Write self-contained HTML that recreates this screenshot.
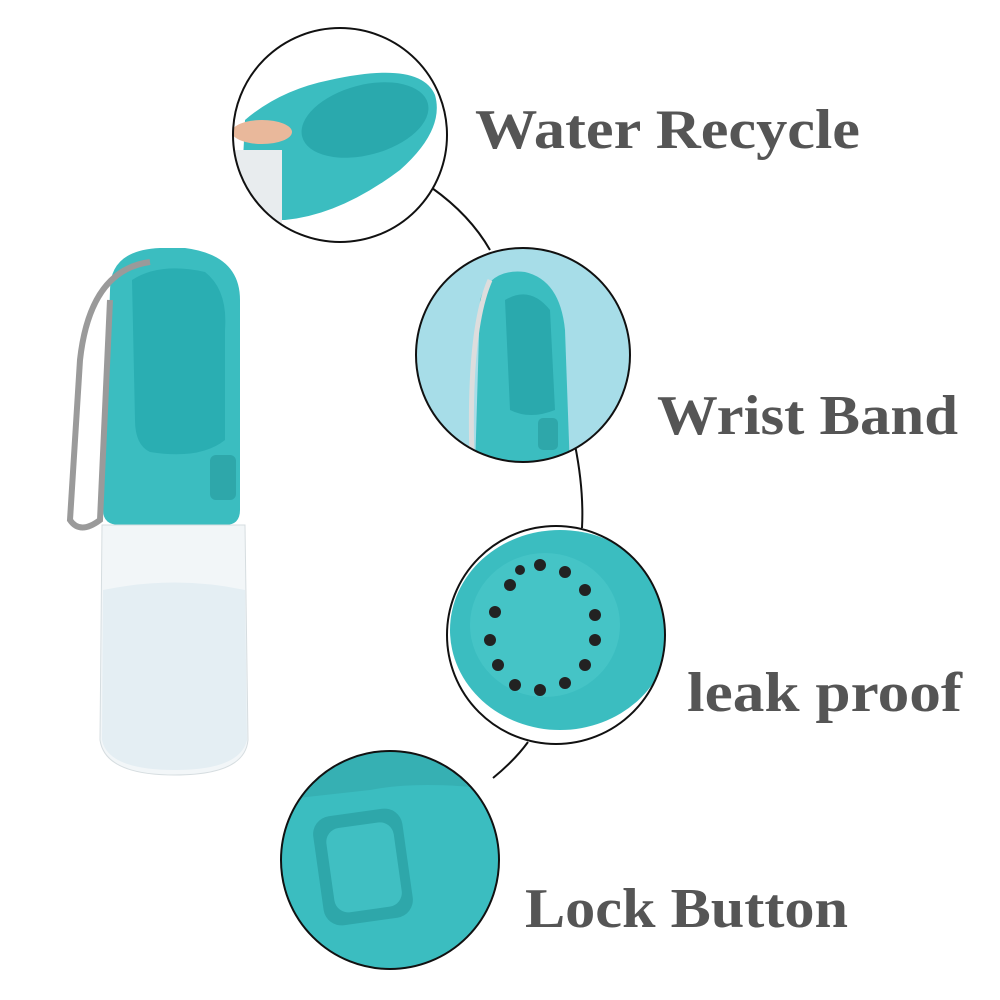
<!DOCTYPE html>
<html><head><meta charset="utf-8"><style>
html,body{margin:0;padding:0;background:#fff;}
svg{display:block}
text{font-family:"Liberation Serif",serif;fill:#555;font-weight:bold;}
</style></head><body>
<svg width="1000" height="1000" viewBox="0 0 1000 1000" xmlns="http://www.w3.org/2000/svg">
<rect width="1000" height="1000" fill="#fff"/>
<path d="M432,188 Q470,215 490,250" stroke="#111" stroke-width="2" fill="none"/>
<path d="M575,445 Q584,490 582,528" stroke="#111" stroke-width="2" fill="none"/>
<path d="M528,742 Q515,760 493,778" stroke="#111" stroke-width="2" fill="none"/>

<path d="M110,290 Q110,250 160,248 L185,248 Q240,255 240,300 L240,510 Q240,525 225,525 L120,525 Q103,525 103,510 Z" fill="#3bbdc0"/>
<path d="M132,280 Q160,262 205,272 Q228,290 225,330 L225,440 Q200,460 150,452 Q135,445 135,420 Z" fill="#2aaeb2"/>
<rect x="210" y="455" width="26" height="45" rx="6" fill="#2ea7aa"/>
<path d="M102,525 L245,525 L248,740 Q245,775 175,775 Q105,775 100,740 Z" fill="#f2f6f8" stroke="#d6dde0"/>
<path d="M103,590 Q175,575 245,590 L247,740 Q240,770 175,770 Q108,770 102,740 Z" fill="#e4eef3"/>
<path d="M150,262 Q90,270 80,360 L70,520 Q80,535 100,520 L110,300" stroke="#9a9a9a" stroke-width="6" fill="none"/>

<clipPath id="c1"><circle cx="340" cy="135" r="107"/></clipPath>
<g clip-path="url(#c1)">
<rect x="230" y="25" width="220" height="220" fill="#fff"/>
<path d="M245,120 Q280,90 330,80 Q420,60 435,95 Q445,130 400,170 Q340,215 285,220 L240,220 Z" fill="#3bbdc0"/>
<ellipse cx="365" cy="120" rx="65" ry="35" fill="#2aa9ad" transform="rotate(-15 365 120)"/>
<rect x="232" y="150" width="50" height="80" fill="#e8ecee"/>
<ellipse cx="262" cy="132" rx="30" ry="12" fill="#e9b89b"/>
</g>
<circle cx="340" cy="135" r="107" fill="none" stroke="#111" stroke-width="2"/>

<clipPath id="c2"><circle cx="523" cy="355" r="107"/></clipPath>
<g clip-path="url(#c2)">
<rect x="415" y="247" width="220" height="220" fill="#a7dde8"/>
<path d="M480,300 Q490,268 525,272 Q560,280 565,330 L570,470 L475,470 Z" fill="#3bbdc0"/>
<path d="M505,300 Q530,285 550,310 L555,410 Q530,420 510,410 Z" fill="#2aa9ad"/>
<rect x="538" y="418" width="20" height="32" rx="5" fill="#2ea7aa"/>
<path d="M490,280 Q468,330 472,460" stroke="#ddd" stroke-width="5" fill="none"/>
</g>
<circle cx="523" cy="355" r="107" fill="none" stroke="#111" stroke-width="2"/>

<clipPath id="c3"><circle cx="556" cy="635" r="109"/></clipPath>
<g clip-path="url(#c3)">
<rect x="446" y="525" width="222" height="222" fill="#fff"/>
<ellipse cx="560" cy="630" rx="110" ry="100" fill="#3bbdc0"/>
<ellipse cx="545" cy="625" rx="75" ry="72" fill="#45c4c6"/>
<g fill="#222">
<circle cx="540" cy="565" r="6"/><circle cx="565" cy="572" r="6"/><circle cx="585" cy="590" r="6"/>
<circle cx="595" cy="615" r="6"/><circle cx="595" cy="640" r="6"/><circle cx="585" cy="665" r="6"/>
<circle cx="565" cy="683" r="6"/><circle cx="540" cy="690" r="6"/><circle cx="515" cy="685" r="6"/>
<circle cx="498" cy="665" r="6"/><circle cx="490" cy="640" r="6"/><circle cx="495" cy="612" r="6"/>
<circle cx="510" cy="585" r="6"/><circle cx="520" cy="570" r="5"/>
</g>
</g>
<circle cx="556" cy="635" r="109" fill="none" stroke="#111" stroke-width="2"/>

<clipPath id="c4"><circle cx="390" cy="860" r="109"/></clipPath>
<g clip-path="url(#c4)">
<rect x="280" y="750" width="220" height="222" fill="#3bbdc0"/>
<path d="M280,750 L500,750 L500,790 Q420,780 370,790 L280,800 Z" fill="#36b0b3"/>
<rect x="318" y="812" width="90" height="110" rx="18" fill="#2ea7aa" transform="rotate(-8 363 867)"/>
<rect x="330" y="825" width="68" height="85" rx="14" fill="#40bfc2" transform="rotate(-8 363 867)"/>
</g>
<circle cx="390" cy="860" r="109" fill="none" stroke="#111" stroke-width="2"/>

<text x="475" y="148" font-size="56" textLength="385" lengthAdjust="spacingAndGlyphs">Water Recycle</text>
<text x="657" y="434" font-size="56" textLength="301" lengthAdjust="spacingAndGlyphs">Wrist Band</text>
<text x="687" y="711" font-size="56" textLength="275" lengthAdjust="spacingAndGlyphs">leak proof</text>
<text x="525" y="927" font-size="56" textLength="323" lengthAdjust="spacingAndGlyphs">Lock Button</text>
</svg>
</body></html>
